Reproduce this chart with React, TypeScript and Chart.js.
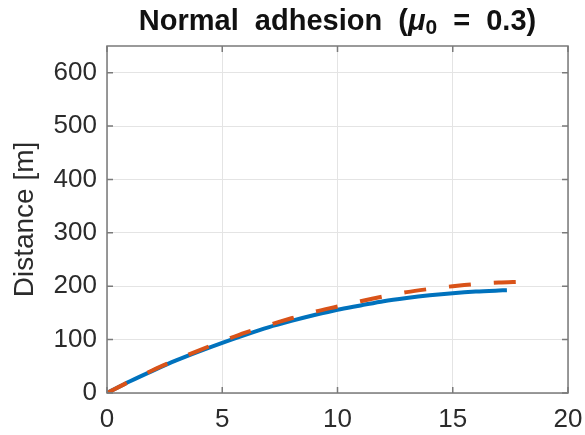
import React, { useEffect, useRef } from "react";
import { Chart, registerables } from "chart.js";

Chart.register(...registerables);

// Time [s] and distance [m]
const blueTime = [0, 1, 2, 3, 4, 5, 6, 7, 8, 9, 10, 11, 12, 13, 14, 15, 16, 17, 17.35];
const blueDist = [0, 22, 42, 61, 78, 94, 109, 123, 135, 146, 156, 164, 172, 178, 183, 187, 190, 192, 192.5];

const orangeTime = [0, 1, 2, 3, 4, 5, 6, 7, 8, 9, 10, 11, 12, 13, 14, 15, 16, 17, 18, 18.2];
const orangeDist = [0, 22, 43, 62, 80, 97, 113, 127, 140, 152, 162, 172, 181, 189, 195, 200, 204, 207, 208.5, 209];

const xTicks = [0, 5, 10, 15, 20];
const yTicks = [0, 100, 200, 300, 400, 500, 600];

const yLabel = "Distance [m]";
const titleParts = ["Normal  adhesion  (", "\u03bc", "0", "  =  0.3)"];

const FONT = '"Liberation Sans", Arial, Helvetica, sans-serif';
const TEXT = "#2b2b2b";

const framePlugin = {
  id: "matlabFrame",
  afterDatasetsDraw(chart: any) {
    const { ctx, chartArea, scales } = chart;
    const { left, right, top, bottom } = chartArea;
    ctx.save();
    ctx.strokeStyle = "#7a7a7a";
    ctx.lineWidth = 1.5;
    ctx.strokeRect(left, top, right - left, bottom - top);
    const L = 6;
    ctx.beginPath();
    scales.x.ticks.forEach((t: any) => {
      const px = scales.x.getPixelForValue(t.value);
      ctx.moveTo(px, bottom);
      ctx.lineTo(px, bottom - L);
      ctx.moveTo(px, top);
      ctx.lineTo(px, top + L);
    });
    scales.y.ticks.forEach((t: any) => {
      const py = scales.y.getPixelForValue(t.value);
      ctx.moveTo(left, py);
      ctx.lineTo(left + L, py);
      ctx.moveTo(right, py);
      ctx.lineTo(right - L, py);
    });
    ctx.stroke();
    ctx.restore();
  },
};

const titlePlugin = {
  id: "matlabTitle",
  afterDraw(chart: any) {
    const { ctx, chartArea } = chart;
    const parts = [
      { text: titleParts[0], font: `bold 29px ${FONT}`, dy: 0 },
      { text: titleParts[1], font: `italic bold 29px ${FONT}`, dy: 0 },
      { text: titleParts[2], font: `bold 21px ${FONT}`, dy: 4 },
      { text: titleParts[3], font: `bold 29px ${FONT}`, dy: 0 },
    ];
    ctx.save();
    ctx.fillStyle = "#111111";
    ctx.textBaseline = "alphabetic";
    ctx.textAlign = "left";
    let total = 0;
    const widths = parts.map((p) => {
      ctx.font = p.font;
      const w = ctx.measureText(p.text).width;
      total += w;
      return w;
    });
    let x = (chartArea.left + chartArea.right) / 2 - total / 2;
    const base = 29.5;
    parts.forEach((p, i) => {
      ctx.font = p.font;
      ctx.fillText(p.text, x, base + p.dy);
      x += widths[i];
    });
    ctx.restore();
  },
};

export default function App() {
  const ref = useRef<HTMLCanvasElement | null>(null);

  useEffect(() => {
    if (!ref.current) return;
    const chart = new Chart(ref.current, {
      type: "line",
      data: {
        datasets: [
          {
            label: "Blue",
            data: blueTime.map((t, i) => ({ x: t, y: blueDist[i] })),
            borderColor: "#0072BD",
            borderWidth: 4,
            pointRadius: 0,
            fill: false,
            tension: 0.3,
            borderCapStyle: "butt",
            order: 2,
          },
          {
            label: "Orange",
            data: orangeTime.map((t, i) => ({ x: t, y: orangeDist[i] })),
            borderColor: "#D95319",
            borderWidth: 4,
            borderDash: [22, 23],
            pointRadius: 0,
            fill: false,
            tension: 0.3,
            borderCapStyle: "butt",
            order: 1,
          },
        ],
      },
      options: {
        animation: false,
        responsive: false,
        devicePixelRatio: 1,
        layout: { padding: { top: 46, right: 17, left: 0, bottom: 0 } },
        plugins: {
          legend: { display: false },
          tooltip: { enabled: false },
          title: { display: false },
        },
        scales: {
          x: {
            type: "linear",
            min: 0,
            max: 20,
            afterBuildTicks: (s: any) => {
              s.ticks = xTicks.map((v) => ({ value: v }));
            },
            afterFit: (s: any) => {
              s.height = 42;
              s.paddingLeft = 0;
              s.paddingRight = 0;
            },
            grid: { color: "#e4e4e4", lineWidth: 1, drawTicks: false },
            border: { display: false },
            ticks: {
              color: TEXT,
              font: { size: 26, family: FONT },
              padding: 11,
              maxRotation: 0,
              autoSkip: false,
            },
          },
          y: {
            type: "linear",
            min: 0,
            max: 650,
            afterBuildTicks: (s: any) => {
              s.ticks = yTicks.map((v) => ({ value: v }));
            },
            afterFit: (s: any) => {
              s.width = 107;
              s.paddingTop = 0;
              s.paddingBottom = 0;
            },
            grid: { color: "#e4e4e4", lineWidth: 1, drawTicks: false },
            border: { display: false },
            title: {
              display: true,
              text: yLabel,
              color: TEXT,
              font: { size: 28, family: FONT },
              padding: { top: 8, bottom: 0 },
            },
            ticks: {
              color: TEXT,
              font: { size: 26, family: FONT },
              padding: 10,
              autoSkip: false,
            },
          },
        },
      },
      plugins: [framePlugin, titlePlugin],
    } as any);
    return () => chart.destroy();
  }, []);

  return (
    <div style={{ position: "fixed", left: 0, top: 0, width: 585, height: 435, background: "#fff" }}>
      <canvas ref={ref} width={585} height={435} style={{ width: 585, height: 435 }} />
    </div>
  );
}
